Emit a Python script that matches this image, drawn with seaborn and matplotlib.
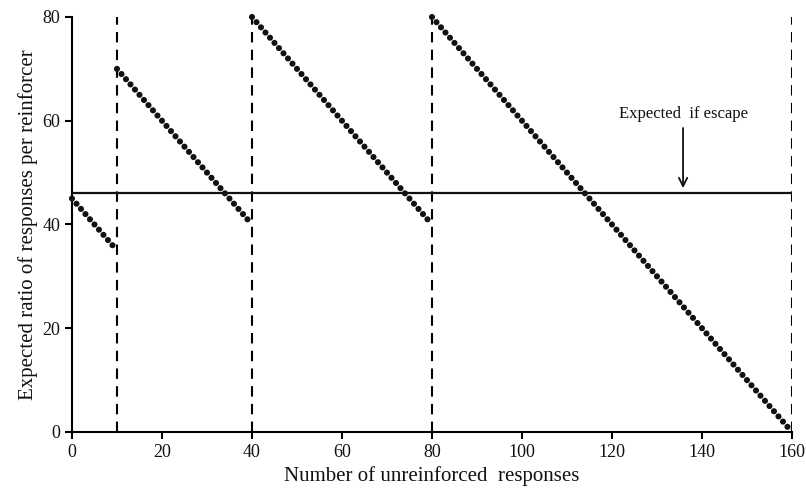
import matplotlib
matplotlib.use("Agg")
import matplotlib.pyplot as plt
import seaborn as sns
import pandas as pd

x_responses = [
    0, 1, 2, 3, 4, 5, 6, 7, 8, 9,
    10, 11, 12, 13, 14, 15, 16, 17, 18, 19, 20, 21, 22, 23, 24, 25, 26, 27, 28, 29,
    30, 31, 32, 33, 34, 35, 36, 37, 38, 39,
    40, 41, 42, 43, 44, 45, 46, 47, 48, 49, 50, 51, 52, 53, 54, 55, 56, 57, 58, 59,
    60, 61, 62, 63, 64, 65, 66, 67, 68, 69, 70, 71, 72, 73, 74, 75, 76, 77, 78, 79,
    80, 81, 82, 83, 84, 85, 86, 87, 88, 89, 90, 91, 92, 93, 94, 95, 96, 97, 98, 99,
    100, 101, 102, 103, 104, 105, 106, 107, 108, 109, 110, 111, 112, 113, 114, 115, 116, 117, 118, 119,
    120, 121, 122, 123, 124, 125, 126, 127, 128, 129, 130, 131, 132, 133, 134, 135, 136, 137, 138, 139,
    140, 141, 142, 143, 144, 145, 146, 147, 148, 149, 150, 151, 152, 153, 154, 155, 156, 157, 158, 159,
]
y_ratio = [
    45, 44, 43, 42, 41, 40, 39, 38, 37, 36,
    70, 69, 68, 67, 66, 65, 64, 63, 62, 61, 60, 59, 58, 57, 56, 55, 54, 53, 52, 51,
    50, 49, 48, 47, 46, 45, 44, 43, 42, 41,
    80, 79, 78, 77, 76, 75, 74, 73, 72, 71, 70, 69, 68, 67, 66, 65, 64, 63, 62, 61,
    60, 59, 58, 57, 56, 55, 54, 53, 52, 51, 50, 49, 48, 47, 46, 45, 44, 43, 42, 41,
    80, 79, 78, 77, 76, 75, 74, 73, 72, 71, 70, 69, 68, 67, 66, 65, 64, 63, 62, 61,
    60, 59, 58, 57, 56, 55, 54, 53, 52, 51, 50, 49, 48, 47, 46, 45, 44, 43, 42, 41,
    40, 39, 38, 37, 36, 35, 34, 33, 32, 31, 30, 29, 28, 27, 26, 25, 24, 23, 22, 21,
    20, 19, 18, 17, 16, 15, 14, 13, 12, 11, 10, 9, 8, 7, 6, 5, 4, 3, 2, 1,
]
reinforcer_points = [10, 40, 80, 160]
escape_level = 46
x_ticks = [0, 20, 40, 60, 80, 100, 120, 140, 160]
y_ticks = [0, 20, 40, 60, 80]
arrow_x = 135.8
arrow_from = 58.6
arrow_to = 47.0
label_text = "Expected  if escape"
label_y = 60.5

sns.set_style("ticks")
plt.rcParams["font.family"] = ["Liberation Serif", "DejaVu Serif"]
plt.rcParams["text.color"] = "black"
plt.rcParams["axes.labelcolor"] = "black"

df = pd.DataFrame({"x": x_responses, "y": y_ratio})

fig = plt.figure(figsize=(8.06, 4.88), dpi=100)
ax = fig.add_axes([0.0893, 0.1148, 0.8933, 0.8504])

for xv in reinforcer_points:
    ax.axvline(xv, ymin=0, ymax=1, color="black", lw=1.5, ls=(0, (5, 3.5)), zorder=1)
ax.axhline(escape_level, xmin=0, xmax=1, color="#111111", lw=1.6, zorder=2)

sns.scatterplot(data=df, x="x", y="y", ax=ax, color="#111111", s=19,
                edgecolor="none", zorder=3, legend=False, clip_on=False)

ax.annotate("", xy=(arrow_x, arrow_to), xytext=(arrow_x, arrow_from),
            arrowprops=dict(arrowstyle="->,head_width=0.3,head_length=0.6",
                            color="#111111", lw=1.3, shrinkA=0, shrinkB=0))
ax.text(arrow_x, label_y, label_text, ha="center", va="baseline", fontsize=12,
        color="#111111")

ax.set_xlim(0, 160)
ax.set_ylim(0, 80)
ax.set_xticks(x_ticks)
ax.set_yticks(y_ticks)
ax.tick_params(axis="both", direction="out", length=5, width=1.5, labelsize=13,
               color="black", labelcolor="#111111")
for side in ["top", "right"]:
    ax.spines[side].set_visible(False)
for side in ["left", "bottom"]:
    ax.spines[side].set_linewidth(1.5)
    ax.spines[side].set_color("black")
ax.set_xlabel("Number of unreinforced  responses", fontsize=15, labelpad=4,
              color="#111111")
ax.set_ylabel("Expected ratio of responses per reinforcer", fontsize=15, labelpad=3,
              color="#111111")

fig.savefig("out.png", dpi=100)
